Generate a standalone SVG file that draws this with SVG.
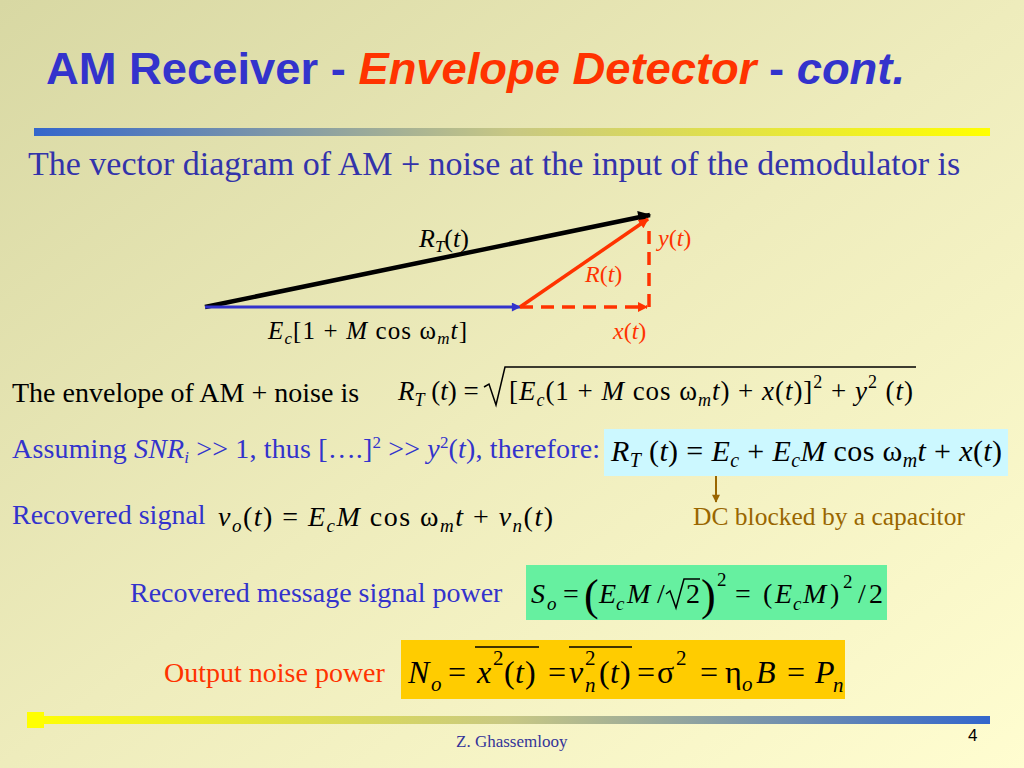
<svg xmlns="http://www.w3.org/2000/svg" width="1024" height="768" viewBox="0 0 1024 768">
<defs>
<linearGradient id="bg" x1="0" y1="0" x2="1" y2="1">
<stop offset="0" stop-color="#d8d8a3"/>
<stop offset="0.5" stop-color="#eeecbc"/>
<stop offset="1" stop-color="#fffdd0"/>
</linearGradient>
<linearGradient id="barTop" x1="0" y1="0" x2="1" y2="0">
<stop offset="0" stop-color="#3366cc"/>
<stop offset="0.5" stop-color="#c8c884"/>
<stop offset="1" stop-color="#ffff00"/>
</linearGradient>
<linearGradient id="barBot" x1="0" y1="0" x2="1" y2="0">
<stop offset="0" stop-color="#ffff00"/>
<stop offset="0.5" stop-color="#c8c884"/>
<stop offset="1" stop-color="#3366cc"/>
</linearGradient>
<marker id="ahBlack" viewBox="0 0 10 10" refX="9" refY="5" markerWidth="20" markerHeight="13" markerUnits="userSpaceOnUse" orient="auto"><path d="M0,0 L10,5 L0,10 Z" fill="#000"/></marker>
<marker id="ahBlue" viewBox="0 0 10 10" refX="9" refY="5" markerWidth="13" markerHeight="9" markerUnits="userSpaceOnUse" orient="auto"><path d="M0,0 L10,5 L0,10 Z" fill="#3333cc"/></marker>
<marker id="ahRed" viewBox="0 0 10 10" refX="9" refY="5" markerWidth="13" markerHeight="10" markerUnits="userSpaceOnUse" orient="auto"><path d="M0,0 L10,5 L0,10 Z" fill="#ff3300"/></marker>
<marker id="ahBrown" viewBox="0 0 10 10" refX="9" refY="5" markerWidth="10" markerHeight="8" markerUnits="userSpaceOnUse" orient="auto"><path d="M0,0 L10,5 L0,10 Z" fill="#996600"/></marker>
</defs>
<style>
.sans{font-family:"Liberation Sans",Arial,sans-serif;}
.m{font-family:"Liberation Serif","Times New Roman",serif;}
.i{font-style:italic;}
.blue{fill:#3333cc;}
.red{fill:#ff3300;}
.blk{fill:#000;}
.brown{fill:#996600;}
</style>
<rect x="0" y="0" width="1024" height="768" fill="url(#bg)"/>

<g id="title">
<text class="sans" x="46" y="84" font-size="45" font-weight="bold" textLength="859" lengthAdjust="spacingAndGlyphs"><tspan class="blue">AM Receiver - </tspan><tspan class="red i">Envelope Detector</tspan><tspan class="blue"> - </tspan><tspan class="blue i">cont.</tspan></text>
</g>
<rect id="topbar" x="34" y="128" width="956" height="8" fill="url(#barTop)"/>

<g id="subtitle">
<text class="m" x="28" y="175" font-size="34" fill="#3333aa">The vector diagram of AM + noise at the input of the demodulator is</text>
</g>

<g id="connectors" stroke-width="4" fill="none">
<line x1="205" y1="307" x2="650" y2="215" stroke="#000" stroke-width="4.5" marker-end="url(#ahBlack)"/>
<line x1="205" y1="307" x2="520" y2="307" stroke="#3333cc" stroke-width="3" marker-end="url(#ahBlue)"/>
<line x1="520" y1="307" x2="648" y2="219" stroke="#ff3300" stroke-width="3.5" marker-end="url(#ahRed)"/>
<line x1="520" y1="307" x2="647" y2="307" stroke="#ff3300" stroke-width="3.5" stroke-dasharray="13,8" marker-end="url(#ahRed)"/>
<line x1="649" y1="307" x2="649" y2="224" stroke="#ff3300" stroke-width="3.5" stroke-dasharray="13,8"/>
<line x1="716" y1="476" x2="716" y2="502" stroke="#996600" stroke-width="2" marker-end="url(#ahBrown)"/>
</g>

<g id="label-RT">
<text class="m blk" x="419" y="247" font-size="26"><tspan class="i">R</tspan><tspan class="i" font-size="17" dy="5">T</tspan><tspan dy="-5">(</tspan><tspan class="i">t</tspan>)</text>
</g>
<g id="label-y">
<text class="m red" x="658" y="246" font-size="24"><tspan class="i">y</tspan>(<tspan class="i">t</tspan>)</text>
</g>
<g id="label-R">
<text class="m red" x="585" y="282" font-size="24"><tspan class="i">R</tspan>(<tspan class="i">t</tspan>)</text>
</g>
<g id="label-x">
<text class="m red" x="613" y="339" font-size="24"><tspan class="i">x</tspan>(<tspan class="i">t</tspan>)</text>
</g>
<g id="label-carrier">
<text class="m blk" x="268" y="339" font-size="25" textLength="199" lengthAdjust="spacing"><tspan class="i">E</tspan><tspan class="i" font-size="17" dy="5">c</tspan><tspan dy="-5">[1 + </tspan><tspan class="i">M</tspan> cos ω<tspan class="i" font-size="17" dy="5">m</tspan><tspan class="i" dy="-5">t</tspan>]</text>
</g>

<g id="envelope">
<text class="m blk" x="12" y="402" font-size="28">The envelope of AM + noise is</text>
<text class="m blk" x="398" y="400" font-size="27"><tspan class="i">R</tspan><tspan class="i" font-size="18" dy="6">T</tspan><tspan dy="-6"> (</tspan><tspan class="i">t</tspan>) = </text>
<polyline points="484,387 489,384 496,405 505,367 916,367" fill="none" stroke="#000" stroke-width="1.5"/>
<text class="m blk" x="509" y="400" font-size="27" textLength="404" lengthAdjust="spacing">[<tspan class="i">E</tspan><tspan class="i" font-size="18" dy="6">c</tspan><tspan dy="-6">(1 + </tspan><tspan class="i">M</tspan> cos ω<tspan class="i" font-size="18" dy="6">m</tspan><tspan class="i" dy="-6">t</tspan>) + <tspan class="i">x</tspan>(<tspan class="i">t</tspan>)]<tspan font-size="18" dy="-12">2</tspan><tspan dy="12"> + </tspan><tspan class="i">y</tspan><tspan font-size="18" dy="-12">2</tspan><tspan dy="12"> (</tspan><tspan class="i">t</tspan>)</text>
</g>

<g id="assuming">
<text class="m blue" x="12" y="458" font-size="28" textLength="588" lengthAdjust="spacing">Assuming <tspan class="i">SNR</tspan><tspan class="i" font-size="17" dy="5">i</tspan><tspan dy="-5"> &gt;&gt; 1, thus [….]</tspan><tspan font-size="17" dy="-10">2</tspan><tspan dy="10"> &gt;&gt; </tspan><tspan class="i">y</tspan><tspan font-size="17" dy="-10">2</tspan><tspan dy="10">(</tspan><tspan class="i">t</tspan>), therefore:</text>
</g>

<g id="box-RT">
<rect x="604" y="429" width="404" height="47" fill="#ccf8ff"/>
<text class="m blk" x="611" y="461" font-size="30" textLength="391" lengthAdjust="spacing"><tspan class="i">R</tspan><tspan class="i" font-size="20" dy="6">T</tspan><tspan dy="-6"> (</tspan><tspan class="i">t</tspan>) = <tspan class="i">E</tspan><tspan class="i" font-size="20" dy="6">c</tspan><tspan dy="-6"> + </tspan><tspan class="i">E</tspan><tspan class="i" font-size="20" dy="6">c</tspan><tspan class="i" dy="-6">M</tspan> cos ω<tspan class="i" font-size="20" dy="6">m</tspan><tspan class="i" dy="-6">t</tspan> + <tspan class="i">x</tspan>(<tspan class="i">t</tspan>)</text>
</g>

<g id="dc-note">
<text class="m brown" x="693" y="525" font-size="25.5">DC blocked by a capacitor</text>
</g>

<g id="recovered">
<text class="m blue" x="12" y="524" font-size="28">Recovered signal</text>
<text class="m blk" x="218" y="526" font-size="28" textLength="335" lengthAdjust="spacing"><tspan class="i">v</tspan><tspan class="i" font-size="19" dy="6">o</tspan><tspan dy="-6">(</tspan><tspan class="i">t</tspan>) = <tspan class="i">E</tspan><tspan class="i" font-size="19" dy="6">c</tspan><tspan class="i" dy="-6">M</tspan> cos ω<tspan class="i" font-size="19" dy="6">m</tspan><tspan class="i" dy="-6">t</tspan> + <tspan class="i">v</tspan><tspan class="i" font-size="19" dy="6">n</tspan><tspan dy="-6">(</tspan><tspan class="i">t</tspan>)</text>
</g>

<g id="signal-power">
<text class="m blue" x="130" y="602" font-size="28">Recovered message signal power</text>
<rect x="526" y="565" width="361" height="55" fill="#66f0a0"/>
<g class="m blk" font-size="28">
<text x="531" y="603" class="i">S</text>
<text x="547" y="610" class="i" font-size="19">o</text>
<text x="563" y="603">=</text>
<text x="584" y="610" font-size="44">(</text>
<text x="599" y="603" class="i">E</text>
<text x="616" y="610" class="i" font-size="19">c</text>
<text x="627" y="603" class="i">M</text>
<text x="657" y="603">/</text>
<polyline points="666,594 670,591 676,608 684,579 700,579" fill="none" stroke="#000" stroke-width="1.5"/>
<text x="686" y="603">2</text>
<text x="701" y="610" font-size="44">)</text>
<text x="717" y="586" font-size="19">2</text>
<text x="735" y="603">=</text>
<text x="763" y="603">(</text>
<text x="775" y="603" class="i">E</text>
<text x="793" y="610" class="i" font-size="19">c</text>
<text x="803" y="603" class="i">M</text>
<text x="830" y="603">)</text>
<text x="843" y="588" font-size="19">2</text>
<text x="858" y="603">/</text>
<text x="869" y="603">2</text>
</g>
</g>

<g id="noise-power">
<text class="m red" x="164" y="682" font-size="28">Output noise power</text>
<rect x="401" y="640" width="444" height="59" fill="#ffcc00"/>
<g class="m blk" font-size="32">
<text x="408" y="683" class="i">N</text>
<text x="431" y="691" class="i" font-size="21">o</text>
<text x="448" y="683">=</text>
<text x="477" y="683" class="i">x</text>
<text x="493" y="665" font-size="21">2</text>
<text x="504" y="683">(</text>
<text x="515" y="683" class="i">t</text>
<text x="525" y="683">)</text>
<line x1="475" y1="647" x2="539" y2="647" stroke="#000" stroke-width="1.5"/>
<text x="548" y="683">=</text>
<text x="569" y="683" class="i">v</text>
<text x="585" y="665" font-size="21">2</text>
<text x="585" y="692" class="i" font-size="21">n</text>
<text x="599" y="683">(</text>
<text x="610" y="683" class="i">t</text>
<text x="620" y="683">)</text>
<line x1="569" y1="647" x2="632" y2="647" stroke="#000" stroke-width="1.5"/>
<text x="637" y="683">=</text>
<text x="657" y="683">σ</text>
<text x="676" y="665" font-size="21">2</text>
<text x="700" y="683">=</text>
<text x="725" y="683">η</text>
<text x="742" y="691" class="i" font-size="21">o</text>
<text x="756" y="683" class="i">B</text>
<text x="787" y="683">=</text>
<text x="815" y="683" class="i">P</text>
<text x="833" y="692" class="i" font-size="21">n</text>
</g>
</g>

<rect id="botbar" x="27" y="716" width="963" height="8" fill="url(#barBot)"/>
<rect id="botsquare" x="27" y="712" width="17" height="16" fill="#ffff00"/>
<g id="footer">
<text class="m" x="456" y="747" font-size="17" fill="#333399">Z. Ghassemlooy</text>
<text class="sans" x="968" y="741" font-size="17" fill="#000">4</text>
</g>
</svg>
